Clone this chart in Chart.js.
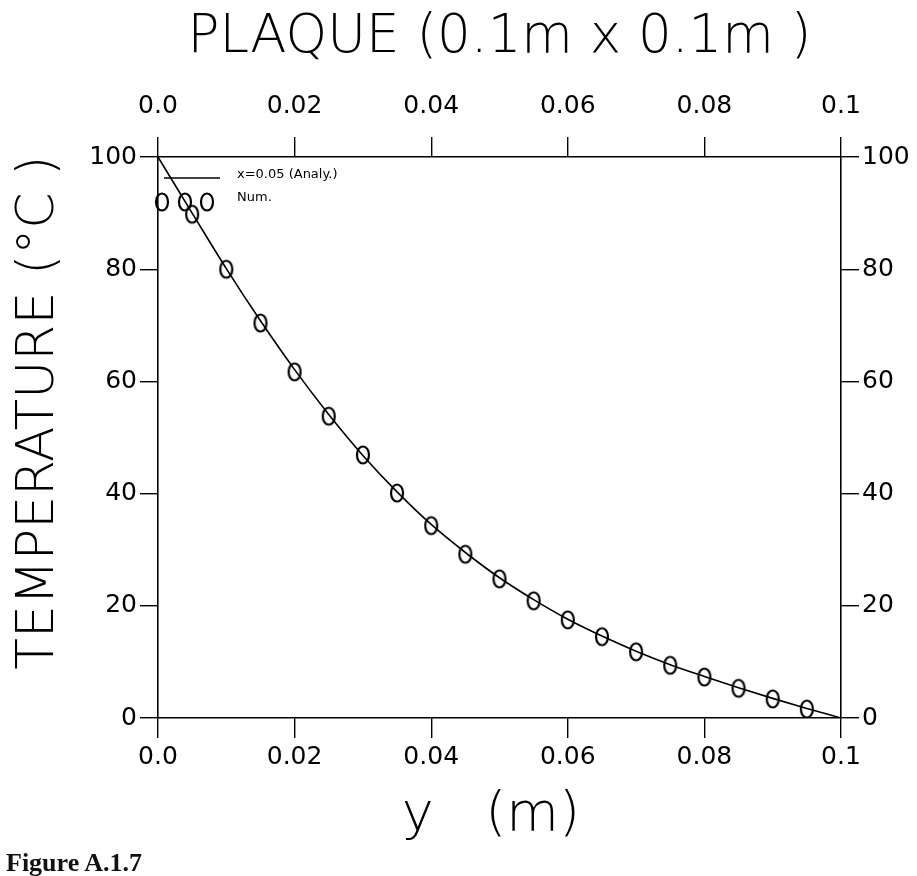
<!DOCTYPE html>
<html>
<head>
<meta charset="utf-8">
<script src="https://cdn.jsdelivr.net/npm/chart.js@4.4.1/dist/chart.umd.min.js"></script>
<style>
  html, body { margin: 0; background: #fff; }
  #wrap { position: relative; width: 917px; height: 876px; }
  #fig { position: absolute; left: 6px; top: 848px; font: bold 26px 'Liberation Serif', serif; color: #111; }
</style>
</head>
<body>
<div id="wrap">
  <canvas id="plate" width="917" height="876"></canvas>
  <div id="fig">Figure A.1.7</div>
</div>
<script>
// position along y (m) and temperature (°C) at x = 0.05
const yAnaly   = [0, 0.005, 0.01, 0.015, 0.02, 0.025, 0.03, 0.035, 0.04, 0.045, 0.05,
                  0.055, 0.06, 0.065, 0.07, 0.075, 0.08, 0.085, 0.09, 0.095, 0.1];
const tAnaly   = [100, 90.0, 80.1, 70.8, 62.1, 54.1, 46.8, 40.3, 34.5, 29.5, 25.0,
                  21.1, 17.6, 14.6, 11.9, 9.5, 7.4, 5.4, 3.5, 1.7, 0];
const yNum     = [0.005, 0.01, 0.015, 0.02, 0.025, 0.03, 0.035, 0.04, 0.045, 0.05,
                  0.055, 0.06, 0.065, 0.07, 0.075, 0.08, 0.085, 0.09, 0.095];
const tNum     = [89.8, 80.0, 70.4, 61.7, 53.8, 46.9, 40.1, 34.3, 29.2, 24.8,
                  20.9, 17.5, 14.5, 11.8, 9.4, 7.3, 5.3, 3.4, 1.6];
const xTicks   = ['0.0', '0.02', '0.04', '0.06', '0.08', '0.1'];
const tTicks   = [0, 20, 40, 60, 80, 100];

// tall open ellipse used by the plotter for "Num."
function ellipse() {
  const c = document.createElement('canvas');
  c.width = 18; c.height = 22;
  const g = c.getContext('2d');
  g.lineWidth = 2.2;
  g.strokeStyle = '#000';
  g.beginPath();
  g.ellipse(9, 11, 6, 8.5, 0, 0, Math.PI * 2);
  g.stroke();
  return c;
}
const mark = ellipse();

const face      = 'DejaVu Sans';
const tickFont  = { family: face, size: 25 };
const bigFont   = size => ({ family: face, size, weight: 200 });
const tickLabel = v => xTicks[Math.round(v / 0.02)] ?? '';

const axisX = (pos, pad, extra) => Object.assign({
  type: 'linear', position: pos, min: 0, max: 0.1,
  border: { color: '#000', width: 1.6 },
  grid: { drawOnChartArea: false, color: '#000', lineWidth: 1.4, tickLength: 20 },
  ticks: { stepSize: 0.02, color: '#000', font: tickFont, padding: pad, maxRotation: 0,
           callback: tickLabel },
}, extra);

const axisT = (pos, extra) => Object.assign({
  type: 'linear', position: pos, min: 0, max: 100,
  border: { color: '#000', width: 1.6 },
  grid: { drawOnChartArea: false, color: '#000', lineWidth: 1.4, tickLength: 18 },
  ticks: { stepSize: 20, color: '#000', font: tickFont, padding: 3,
           callback: v => tTicks.includes(v) ? String(v) : '' },
}, extra);

const legendBox = {
  id: 'legendBox',
  afterDatasetsDraw(chart) {
    const { ctx, chartArea: a } = chart;
    ctx.save();
    ctx.strokeStyle = '#000';
    ctx.lineWidth = 1.5;
    ctx.beginPath();
    ctx.moveTo(a.left + 6, a.top + 21);
    ctx.lineTo(a.left + 62, a.top + 21);
    ctx.stroke();
    [a.left + 4, a.left + 27, a.left + 49].forEach(x => ctx.drawImage(mark, x - 9, a.top + 45 - 11));
    ctx.fillStyle = '#000';
    ctx.font = '13px ' + face;
    ctx.textBaseline = 'middle';
    ctx.fillText('x=0.05 (Analy.)', a.left + 79, a.top + 18);
    ctx.fillText('Num.', a.left + 79, a.top + 41);
    ctx.restore();
  }
};

new Chart(document.getElementById('plate'), {
  type: 'line',
  data: {
    datasets: [
      {
        label: 'x=0.05 (Analy.)',
        data: yAnaly.map((y, i) => ({ x: y, y: tAnaly[i] })),
        borderColor: '#000', borderWidth: 1.6,
        pointRadius: 0, cubicInterpolationMode: 'monotone',
        xAxisID: 'x', yAxisID: 'y',
      },
      {
        label: 'Num.',
        data: yNum.map((y, i) => ({ x: y, y: tNum[i] })),
        showLine: false,
        pointStyle: mark, pointRadius: 8,
        xAxisID: 'x', yAxisID: 'y',
      },
    ],
  },
  options: {
    responsive: false,
    animation: false,
    layout: { padding: 0 },
    plugins: { legend: { display: false }, tooltip: { enabled: false } },
    scales: {
      x: axisX('bottom', 4, {
        title: { display: true, text: 'y   (m) ', color: '#000', padding: { bottom: 28 },
                 font: bigFont(54) },
        afterFit: s => { s.height = 158; },
      }),
      x2: axisX('top', 16, {
        title: { display: true, text: 'PLAQUE (0.1m x 0.1m )', color: '#000', padding: { top: 6 },
                 font: bigFont(53) },
        afterFit: s => { s.height = 157; },
      }),
      y: axisT('left', {
        title: { display: true, text: '   TEMPERATURE (°C )', color: '#000', padding: { top: 8 },
                 font: bigFont(52) },
        afterFit: s => { s.width = 158; },
      }),
      y2: axisT('right', {
        afterFit: s => { s.width = 76; },
      }),
    },
  },
  plugins: [legendBox],
});
</script>
</body>
</html>
